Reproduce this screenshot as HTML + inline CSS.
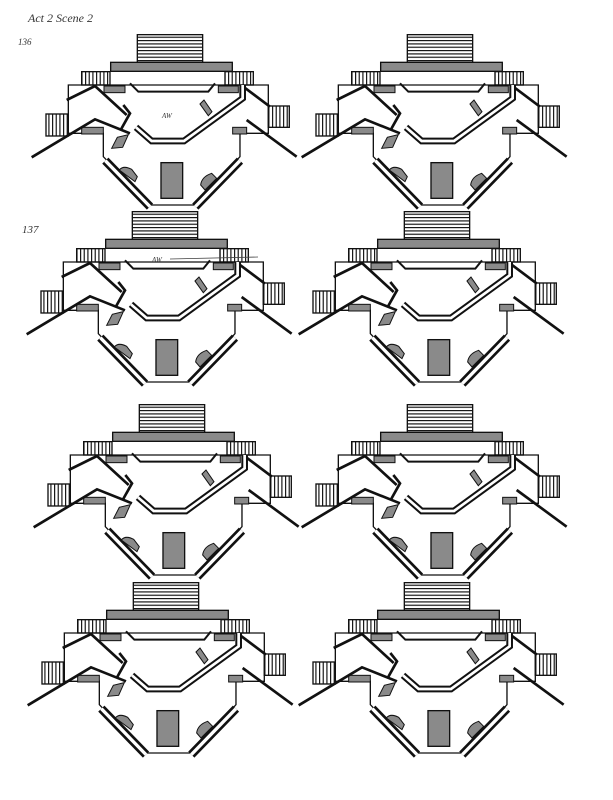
<!DOCTYPE html>
<html><head><meta charset="utf-8"><style>
html,body{margin:0;padding:0;background:#fff;}
svg{display:block;}
</style></head><body>
<svg width="613" height="800" viewBox="0 0 613 800" xmlns="http://www.w3.org/2000/svg">
<defs>
<pattern id="hs" width="10" height="10" patternUnits="userSpaceOnUse"><rect width="10" height="10" fill="#fff"/><rect y="0" width="10" height="3.5" fill="#111"/></pattern>
<pattern id="vs" width="11" height="10" patternUnits="userSpaceOnUse"><rect width="11" height="10" fill="#fff"/><rect x="0" width="3.5" height="10" fill="#111"/></pattern>
<g id="d">
<rect x="322" y="14" width="196" height="83" fill="url(#hs)" stroke="#111" stroke-width="4"/>
<rect x="242" y="97" width="365" height="27" fill="#8a8a8a" stroke="#111" stroke-width="4"/>
<rect x="155" y="125" width="85" height="40" fill="url(#vs)" stroke="#111" stroke-width="4"/>
<rect x="585" y="125" width="85" height="40" fill="url(#vs)" stroke="#111" stroke-width="4"/>
<rect x="48" y="252" width="67" height="66" fill="url(#vs)" stroke="#111" stroke-width="4"/>
<rect x="715" y="228" width="63" height="64" fill="url(#vs)" stroke="#111" stroke-width="4"/>
<path d="M115,165 H715 V310 H630 V380 L500,525 H360 L220,380 V310 H115 Z" fill="none" stroke="#111" stroke-width="4"/>
<rect x="222" y="168" width="63" height="20" fill="#8a8a8a" stroke="#111" stroke-width="3"/>
<rect x="565" y="168" width="60" height="20" fill="#8a8a8a" stroke="#111" stroke-width="3"/>
<rect x="155" y="292" width="65" height="20" fill="#8a8a8a" stroke="#111" stroke-width="3"/>
<rect x="608" y="292" width="42" height="20" fill="#8a8a8a" stroke="#111" stroke-width="3"/>
<path d="M300,160 L325,185 H535 L555,160" fill="none" stroke="#111" stroke-width="6"/>
<g fill="none" stroke="#111" stroke-width="8">
<path d="M110,210 L195,168 L290,255"/>
<path d="M5,382 L195,268 L300,310"/>
<path d="M280,225 L300,250 L272,300"/>
<path d="M640,170 L720,230"/>
<path d="M650,270 L800,380"/>
</g>
<path d="M318,292 L365,333 H462 L638,205 V165" fill="none" stroke="#111" stroke-width="20"/>
<path d="M318,292 L365,333 H462 L638,205 V165" fill="none" stroke="#fff" stroke-width="8"/>
<line x1="226" y1="392" x2="360" y2="530" stroke="#111" stroke-width="26"/>
<line x1="226" y1="392" x2="360" y2="530" stroke="#fff" stroke-width="10"/>
<line x1="630" y1="392" x2="496" y2="530" stroke="#111" stroke-width="26"/>
<line x1="630" y1="392" x2="496" y2="530" stroke="#fff" stroke-width="10"/>
<path d="M268,420 Q280,405 305,418 L322,440 L315,455 Z" fill="#8a8a8a" stroke="#111" stroke-width="3"/>
<path d="M512,465 Q515,440 545,430 L560,445 L525,480 Z" fill="#8a8a8a" stroke="#111" stroke-width="3"/>
<rect x="393" y="398" width="65" height="107" fill="#8a8a8a" stroke="#111" stroke-width="4"/>
<polygon points="245,355 262,322 295,314 278,352" fill="#8a8a8a" stroke="#111" stroke-width="3"/>
<polygon points="510,222 522,210 546,245 535,257" fill="#8a8a8a" stroke="#111" stroke-width="3"/>
</g>
</defs>
<g transform="translate(30,30) scale(0.3333)"><use href="#d"/></g>
<g transform="translate(300,30) scale(0.3333)"><use href="#d"/></g>
<g transform="translate(25,207) scale(0.3333)"><use href="#d"/></g>
<g transform="translate(297,207) scale(0.3333)"><use href="#d"/></g>
<g transform="translate(32,400) scale(0.3333)"><use href="#d"/></g>
<g transform="translate(300,400) scale(0.3333)"><use href="#d"/></g>
<g transform="translate(26,578) scale(0.3333)"><use href="#d"/></g>
<g transform="translate(297,578) scale(0.3333)"><use href="#d"/></g>
<g font-family="Liberation Serif, serif" font-style="italic" fill="#333">
<text x="28" y="22" font-size="12">Act 2 Scene 2</text>
<text x="18" y="45" font-size="9">136</text>
<text x="22" y="233" font-size="11">137</text>
<text x="152" y="262" font-size="7">AW</text>
<text x="162" y="118" font-size="7">AW</text>
</g>
<line x1="170" y1="259" x2="258" y2="257" stroke="#444" stroke-width="0.8"/>
</svg>
</body></html>
